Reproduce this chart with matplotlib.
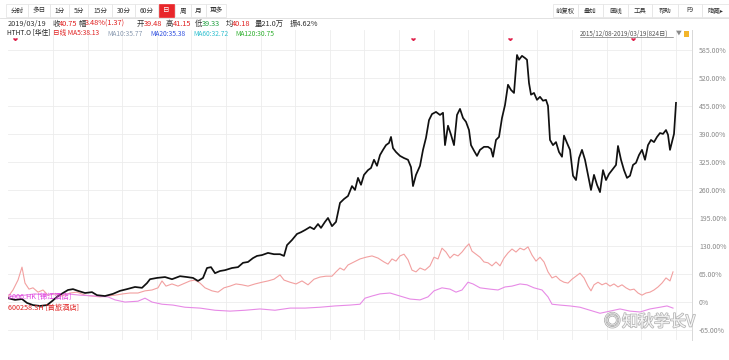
import numpy as np
import matplotlib
matplotlib.use("Agg")
import matplotlib.pyplot as plt
import matplotlib.patheffects as pe
from matplotlib.patches import Rectangle

plt.rcParams['font.family'] = ['Noto Sans CJK SC', 'DejaVu Sans']

# bar index (chart columns) and cumulative change in %
hth_x = [0, 7, 14, 19, 25, 32, 39, 44, 50, 55, 60, 65, 70, 77, 84, 89, 97, 105, 112, 119,
         127, 134, 139, 142, 149, 157, 164, 172, 179, 185, 190, 195, 199, 203, 207, 212, 217,
         224, 230, 235, 240, 245, 249, 254, 260, 266, 272, 276, 279, 284, 289, 293, 297, 302,
         306, 310, 313, 317, 320, 324, 328, 332, 336, 340, 344, 347, 350, 353, 356, 360, 363,
         366, 369, 372, 375, 378, 381, 383, 385, 388, 392, 396, 400, 403, 405, 408, 412, 415,
         418, 421, 424, 428, 432, 435, 437, 440, 443, 446, 449, 452, 455, 458, 461, 463, 466,
         469, 472, 476, 480, 483, 485, 488, 491, 494, 497, 500, 503, 506, 509, 511, 514, 517,
         519, 521, 523, 526, 529, 532, 535, 538, 540, 542, 545, 548, 551, 554, 556, 559, 562,
         565, 568, 571, 574, 577, 580, 583, 586, 589, 592, 595, 598, 601, 604, 608, 610, 613,
         616, 619, 622, 625, 628, 631, 634, 637, 640, 643, 646, 649, 652, 655, 658, 660, 662,
         664, 666, 668]
hth_v = [9, 5, 7, -2, -7, -9, -7, 2, 14, 21, 28, 30, 26, 21, 23, 16, 14, 19, 26, 30,
         35, 33, 44, 53, 56, 58, 53, 60, 58, 56, 49, 56, 79, 81, 67, 72, 74,
         79, 81, 91, 93, 102, 107, 109, 114, 111, 111, 107, 132, 144, 158, 162, 167, 174,
         169, 181, 172, 186, 195, 176, 186, 230, 239, 246, 269, 260, 288, 272, 295, 306, 311,
         330, 316, 341, 353, 364, 369, 383, 357, 348, 339, 334, 330, 313, 269, 295, 316, 353,
         381, 422, 436, 441, 434, 439, 364, 409, 388, 364, 434, 448, 427, 418, 399, 364, 351,
         339, 353, 360, 360, 355, 337, 376, 383, 427, 457, 504, 492, 485, 573, 562, 571, 566,
         562, 508, 481, 485, 469, 476, 467, 469, 455, 376, 364, 371, 348, 337, 386, 369, 353,
         293, 283, 334, 353, 330, 295, 260, 295, 272, 255, 306, 283, 297, 306, 318, 362, 330,
         306, 288, 293, 318, 323, 341, 353, 330, 364, 376, 371, 383, 392, 390, 399, 388, 353,
         371, 390, 462]

btg_x = [0, 5, 10, 14, 17, 21, 25, 30, 35, 40, 47, 54, 62, 69, 77, 84, 92, 100, 107, 115,
         122, 130, 137, 144, 150, 154, 158, 164, 170, 177, 182, 187, 192, 197, 204, 210, 216,
         222, 228, 234, 240, 247, 254, 260, 266, 272, 276, 282, 288, 294, 300, 306, 312, 318,
         324, 328, 332, 336, 340, 346, 352, 358, 364, 370, 376, 380, 384, 388, 392, 396, 400,
         404, 408, 412, 417, 422, 426, 430, 434, 438, 442, 446, 450, 454, 458, 461, 464, 468,
         472, 476, 480, 484, 488, 492, 496, 500, 504, 508, 512, 516, 520, 524, 528, 532, 536,
         540, 544, 548, 552, 556, 560, 564, 568, 572, 576, 580, 583, 586, 590, 594, 598, 602,
         606, 610, 614, 618, 622, 626, 630, 634, 638, 642, 646, 650, 654, 658, 662, 665]
btg_v = [12, 28, 51, 81, 44, 30, 33, 23, 28, 16, 19, 14, 21, 23, 16, 14, 12, 14, 16, 19,
         21, 21, 26, 28, 33, 49, 37, 42, 37, 44, 49, 51, 44, 33, 26, 23, 33,
         37, 42, 40, 37, 42, 46, 49, 53, 63, 51, 46, 42, 49, 40, 53, 58, 60,
         60, 70, 79, 74, 86, 93, 100, 104, 107, 102, 93, 88, 100, 95, 107, 111, 98,
         74, 70, 79, 74, 84, 104, 100, 125, 116, 102, 111, 107, 116, 128, 135, 118, 111,
         104, 93, 91, 84, 93, 84, 102, 114, 123, 116, 125, 121, 128, 109, 95, 104, 93,
         70, 56, 60, 51, 46, 44, 53, 60, 67, 56, 37, 26, 40, 46, 40, 44, 37,
         42, 35, 40, 33, 28, 30, 21, 16, 21, 23, 28, 35, 44, 56, 49, 70]

jj_x = [0, 7, 17, 27, 37, 47, 59, 72, 87, 100, 107, 117, 130, 137, 144, 154, 165, 177, 192,
        207, 222, 237, 252, 267, 282, 297, 312, 327, 342, 352, 357, 364, 372, 382, 392, 402,
        412, 420, 426, 434, 442, 448, 454, 460, 465, 472, 482, 490, 497, 504, 512, 519, 526,
        534, 540, 544, 552, 562, 572, 582, 592, 602, 612, 622, 632, 642, 652, 659, 665]
jj_v = [12, 14, 16, 19, 16, 19, 19, 16, 14, 12, 5, 0, 2, 9, 0, -5, -7, -12, -14,
        -19, -21, -19, -16, -19, -14, -14, -12, -9, -7, -5, 9, 14, 19, 21, 14,
        7, 5, 12, 26, 33, 30, 23, 28, 46, 42, 33, 30, 28, 35, 37, 42, 40,
        33, 28, 12, -5, -7, -9, -12, -19, -26, -21, -16, -21, -23, -16, -12, -9, -14]

y_ticks = [-65, 0, 65, 130, 195, 260, 325, 390, 455, 520, 585]
event_x = [7, 405, 502, 625]

W, H = 729, 360
fig = plt.figure(figsize=(W / 100, H / 100), dpi=100)


def px(x, y):
    return x / W, 1 - y / H


ax = fig.add_axes([8 / W, 20 / H, 684 / W, 310 / H])
ax.set_xlim(0, 684)
ax.set_ylim(-88, 631)

ax.plot(btg_x, btg_v, color='#f2a0a0', lw=0.8)
ax.plot(jj_x, jj_v, color='#e78ae6', lw=0.8)
ax.plot(hth_x, hth_v, color='#111111', lw=1.25)
ax.plot(event_x, [608] * len(event_x), ls='none', marker=7, ms=2.2, color='#e0204a')

ax.set_yticks(y_ticks)
ax.set_yticklabels([('%d.00%%' % t) if t != 0 else '0%' for t in y_ticks])
ax.yaxis.tick_right()
ax.tick_params(axis='y', length=0, pad=5, labelsize=5, labelcolor='#8a8a8a')
ax.set_xticks(np.arange(45, 684, 34.6))
ax.tick_params(axis='x', length=0, labelbottom=False)
ax.grid(True, color='#ececec', lw=0.6)
for s in ['top', 'left', 'bottom']:
    ax.spines[s].set_visible(False)
ax.spines['right'].set_color('#d8d8d8')
ax.spines['right'].set_linewidth(0.7)

ax.text(0.0, 12, '2006.HK [锦江酒店]', transform=ax.get_yaxis_transform(),
        color='#e040e0', fontsize=5.2, va='center')
ax.text(0.0, -14, '600258.SH [首旅酒店]', transform=ax.get_yaxis_transform(),
        color='#e02020', fontsize=5.2, va='center')

# header: period buttons
btns = [('分时', 6, 28), ('多日', 28, 50), ('1分', 50, 69), ('5分', 69, 88), ('15分', 88, 112),
        ('30分', 112, 135), ('60分', 135, 158), ('日', 159, 174), ('周', 175, 191),
        ('月', 191, 206), ('更多', 206, 226)]
for lab, x0, x1 in btns:
    sel = lab == '日'
    fig.patches.append(Rectangle(px(x0, 17), (x1 - x0) / W, 13 / H, transform=fig.transFigure,
                                 facecolor='#e8262a' if sel else 'white',
                                 edgecolor='#e8262a' if sel else '#e2e2e2', lw=0.5))
    fig.text(*px((x0 + x1) / 2, 10.5), lab, ha='center', va='center', fontsize=4.8,
             color='white' if sel else '#333333')

rbtns = [('前复权', 553, 578), ('叠加', 578, 603), ('画线', 603, 628), ('工具', 628, 652),
         ('帮助', 652, 678), ('F9', 678, 702), ('隐藏▸', 702, 729)]
for lab, x0, x1 in rbtns:
    fig.patches.append(Rectangle(px(x0, 17), (x1 - x0) / W, 13 / H, transform=fig.transFigure,
                                 facecolor='white', edgecolor='#e2e2e2', lw=0.5))
    fig.text(*px((x0 + x1) / 2, 10.5), lab, ha='center', va='center', fontsize=4.6,
             color='#333333')
fig.lines.append(plt.Line2D([0, 1], [1 - 17.5 / H] * 2, transform=fig.transFigure,
                            color='#dddddd', lw=0.6))

# header: quote line
row2 = [('2019/03/19', 8, '#333333'), ('收', 53, '#333333'), ('40.75', 59, '#e02020'),
        ('幅', 79, '#333333'), ('3.48%(1.37)', 85, '#e02020'), ('开', 137, '#333333'),
        ('39.48', 144, '#e02020'), ('高', 166, '#333333'), ('41.15', 173, '#e02020'),
        ('低', 195, '#333333'), ('39.33', 202, '#20a040'), ('均', 226, '#333333'),
        ('40.18', 232, '#e02020'), ('量21.0万', 255, '#333333'), ('振4.62%', 290, '#333333')]
for t, x, c in row2:
    fig.text(*px(x, 24), t, fontsize=5.3, color=c, va='center')

row3 = [('HTHT.O [华住]', 7, '#222222'), ('日线 MA5:38.13', 53, '#e02020'),
        ('MA10:35.77', 107, '#8a9ab0'), ('MA20:35.38', 150, '#3050e0'),
        ('MA60:32.72', 193, '#30c0d0'), ('MA120:30.75', 235, '#30b030')]
for t, x, c in row3:
    fig.text(*px(x, 33.5), t, fontsize=4.8, color=c, va='center')

fig.text(*px(580, 33.5), '2015/12/08-2019/03/19(824日)', fontsize=4.5, color='#555555',
         va='center')
fig.lines.append(plt.Line2D([580 / W, 673 / W], [1 - 37 / H] * 2, transform=fig.transFigure,
                            color='#555555', lw=0.4))
fig.text(*px(676, 33.5), '▼', fontsize=4.2, color='#888888', va='center')
fig.patches.append(Rectangle(px(684, 37), 5 / W, 6 / H, transform=fig.transFigure,
                             facecolor='#f3b52a', edgecolor='none'))

# watermark
fig.text(*px(604, 322), '◎', fontsize=12, color='white', va='center', alpha=0.9,
         path_effects=[pe.withStroke(linewidth=1.2, foreground='#b0b0b0')])
fig.text(*px(622, 322), '知秋学长V', fontsize=11.5, color='white', va='center', alpha=0.9,
         path_effects=[pe.withStroke(linewidth=1.2, foreground='#b0b0b0')])

fig.savefig('out.png', dpi=100, facecolor='white')
